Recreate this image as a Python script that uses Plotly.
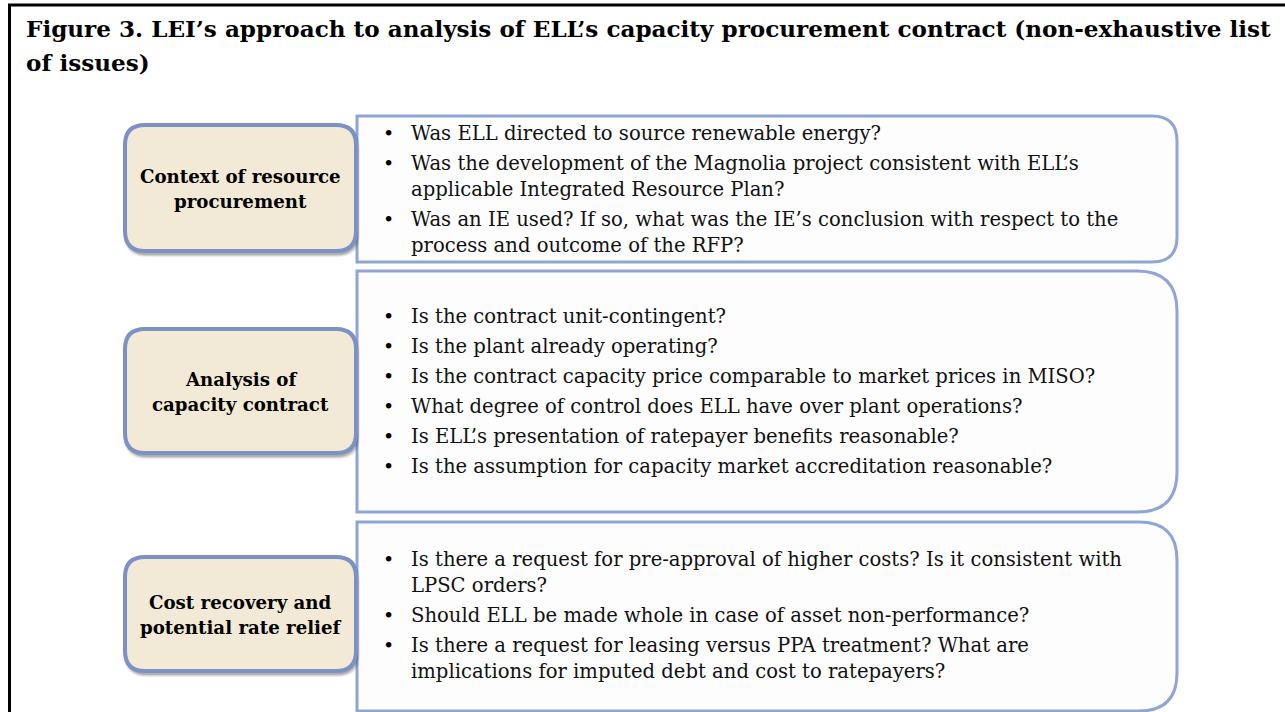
import plotly.graph_objects as go

# ---------------- data ----------------
title_lines = [
    "Figure 3. LEI’s approach to analysis of ELL’s capacity procurement contract (non-exhaustive list",
    "of issues)",
]
categories = [
    ["Context of resource", "procurement"],
    ["Analysis of", "capacity contract"],
    ["Cost recovery and", "potential rate relief"],
]
issues_context = [
    ["Was ELL directed to source renewable energy?"],
    ["Was the development of the Magnolia project consistent with ELL’s",
     "applicable Integrated Resource Plan?"],
    ["Was an IE used? If so, what was the IE’s conclusion with respect to the",
     "process and outcome of the RFP?"],
]
issues_contract = [
    ["Is the contract unit-contingent?"],
    ["Is the plant already operating?"],
    ["Is the contract capacity price comparable to market prices in MISO?"],
    ["What degree of control does ELL have over plant operations?"],
    ["Is ELL’s presentation of ratepayer benefits reasonable?"],
    ["Is the assumption for capacity market accreditation reasonable?"],
]
issues_cost = [
    ["Is there a request for pre-approval of higher costs? Is it consistent with",
     "LPSC orders?"],
    ["Should ELL be made whole in case of asset non-performance?"],
    ["Is there a request for leasing versus PPA treatment? What are",
     "implications for imputed debt and cost to ratepayers?"],
]
issue_groups = [issues_context, issues_contract, issues_cost]

# ---------------- layout constants ----------------
W, H = 1285, 712
SERIF = "DejaVu Serif, serif"
LEFT_FILL = "#F2E9D6"
LEFT_LINE = "#7C92C5"
RIGHT_LINE = "#8EA5D6"

left_boxes = [(125, 125, 356, 251), (125, 329, 356, 453), (125, 557, 356, 671)]
right_boxes = [(357, 116, 1177, 262, 25), (357, 271, 1177, 512, 40), (357, 522, 1177, 711, 38)]
first_line_y = [133, 316, 559]
LINE_STEP = 26
ITEM_STEP = 30
BULLET_X = 388
TEXT_X = 409


def rounded_all(x0, y0, x1, y1, r):
    return (f"M {x0+r},{y0} L {x1-r},{y0} Q {x1},{y0} {x1},{y0+r} "
            f"L {x1},{y1-r} Q {x1},{y1} {x1-r},{y1} L {x0+r},{y1} "
            f"Q {x0},{y1} {x0},{y1-r} L {x0},{y0+r} Q {x0},{y0} {x0+r},{y0} Z")


def rounded_right(x0, y0, x1, y1, r):
    return (f"M {x0},{y0} L {x1-r},{y0} Q {x1},{y0} {x1},{y0+r} "
            f"L {x1},{y1-r} Q {x1},{y1} {x1-r},{y1} L {x0},{y1} Z")


shapes = []
annotations = []

# outer frame (left + top rule)
shapes.append(dict(type="path", path=f"M 9.5,{H} L 9.5,5 L {W},5",
                   line=dict(color="black", width=3), layer="below"))

# right (issue) boxes
for (x0, y0, x1, y1, r) in right_boxes:
    shapes.append(dict(type="path", path=rounded_right(x0, y0, x1, y1, r),
                       fillcolor="#FDFDFD", line=dict(color=RIGHT_LINE, width=3),
                       layer="above"))

# left (category) boxes with soft shadow
for (x0, y0, x1, y1) in left_boxes:
    for k, op in [(6, 0.06), (4.5, 0.08), (3, 0.10), (1.5, 0.12)]:
        shapes.append(dict(type="path",
                           path=rounded_all(x0 + 1 - k / 3, y0 + 3 - k / 3, x1 + 1 + k / 2, y1 + 3 + k / 2, 22),
                           fillcolor=f"rgba(0,0,0,{op})", line=dict(width=0), layer="above"))
    shapes.append(dict(type="path", path=rounded_all(x0, y0, x1, y1, 20),
                       fillcolor=LEFT_FILL, line=dict(color=LEFT_LINE, width=4),
                       layer="above"))

# title
for i, t in enumerate(title_lines):
    annotations.append(dict(x=24, y=28 + 34 * i, text=t, showarrow=False,
                            xanchor="left", yanchor="middle", xref="x", yref="y",
                            font=dict(family=SERIF, size=23.1, color="black", weight="bold")))

# category labels
for (x0, y0, x1, y1), lines in zip(left_boxes, categories):
    cx = (x0 + x1) / 2
    cy = (y0 + y1) / 2 + 1
    n = len(lines)
    for j, ln in enumerate(lines):
        annotations.append(dict(x=cx, y=cy + (j - (n - 1) / 2) * 25, text=ln, showarrow=False,
                                xanchor="center", yanchor="middle",
                                font=dict(family=SERIF, size=18.2, color="black", weight="bold")))

# issue bullets
for y_start, group in zip(first_line_y, issue_groups):
    y = y_start
    for item in group:
        annotations.append(dict(x=BULLET_X, y=y, text="•", showarrow=False,
                                xanchor="center", yanchor="middle",
                                font=dict(family=SERIF, size=19, color="black")))
        for j, ln in enumerate(item):
            annotations.append(dict(x=TEXT_X, y=y + j * LINE_STEP, text=ln, showarrow=False,
                                    xanchor="left", yanchor="middle",
                                    font=dict(family=SERIF, size=19.6, color="#111111")))
        y += (len(item) - 1) * LINE_STEP + ITEM_STEP

fig = go.Figure()
fig.update_layout(
    width=W, height=H, autosize=False,
    margin=dict(l=0, r=0, t=0, b=0),
    paper_bgcolor="white", plot_bgcolor="white",
    xaxis=dict(range=[0, W], visible=False, fixedrange=True),
    yaxis=dict(range=[H, 0], visible=False, fixedrange=True),
    shapes=shapes, annotations=annotations, showlegend=False,
)
fig.write_html("out.html", config={"displayModeBar": False},
               post_script="document.body.style.margin='0';document.body.style.overflow='hidden';")
